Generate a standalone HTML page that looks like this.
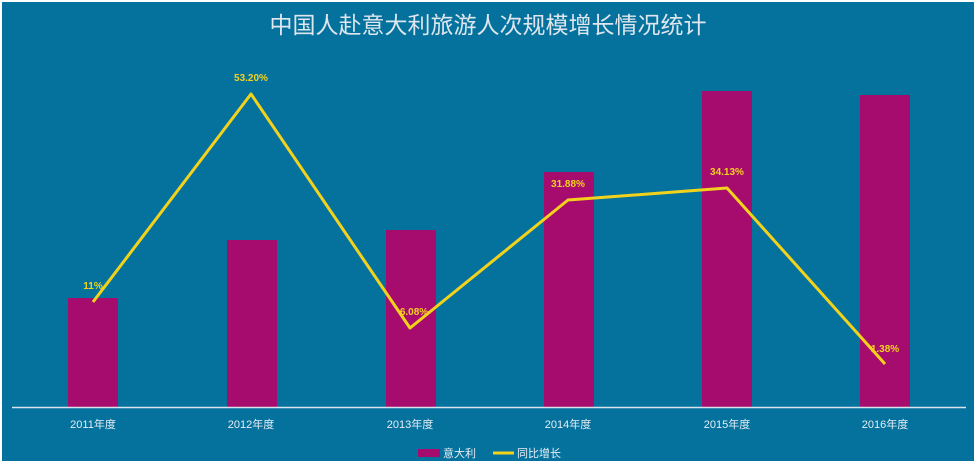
<!DOCTYPE html>
<html><head><meta charset="utf-8"><style>
html,body{margin:0;padding:0;background:#fff;}
svg{display:block}
text{font-family:"Liberation Sans","Noto Sans CJK SC",sans-serif;}
</style></head><body>
<svg width="977" height="465" viewBox="0 0 977 465">
<rect x="2" y="2" width="972" height="459" fill="#05729e"/>
<text x="488" y="33" font-size="23" fill="#dfe6ee" text-anchor="middle">中国人赴意大利旅游人次规模增长情况统计</text>
<g fill="#a50c6e">
<rect x="68" y="298" width="50" height="109"/>
<rect x="227" y="240" width="50" height="167"/>
<rect x="386" y="230" width="50" height="177"/>
<rect x="544" y="172" width="50" height="235"/>
<rect x="702" y="91" width="50" height="316"/>
<rect x="860" y="95" width="50" height="312"/>
</g>
<line x1="12" y1="407.5" x2="966" y2="407.5" stroke="#d8e4ec" stroke-width="1.5"/>
<polyline points="93,302 251,94 410,328 568,200 727,188 885,364" fill="none" stroke="#f3d21c" stroke-width="3" stroke-linejoin="round"/>
<g font-size="10" font-weight="bold" fill="#f3d21c" text-anchor="middle">
<text x="93" y="289">11%</text>
<text x="251" y="81">53.20%</text>
<text x="414" y="315">6.08%</text>
<text x="568" y="187">31.88%</text>
<text x="727" y="175">34.13%</text>
<text x="885" y="352">1.38%</text>
</g>
<g font-size="11" fill="#e6eef4" text-anchor="middle">
<text x="93" y="428">2011年度</text>
<text x="251" y="428">2012年度</text>
<text x="410" y="428">2013年度</text>
<text x="568" y="428">2014年度</text>
<text x="727" y="428">2015年度</text>
<text x="885" y="428">2016年度</text>
</g>
<rect x="418" y="449" width="22" height="8" fill="#a50c6e"/>
<text x="443" y="457" font-size="11" fill="#e6eef4">意大利</text>
<line x1="493" y1="453" x2="514" y2="453" stroke="#f3d21c" stroke-width="3"/>
<text x="517" y="457" font-size="11" fill="#e6eef4">同比增长</text>
</svg>
</body></html>
